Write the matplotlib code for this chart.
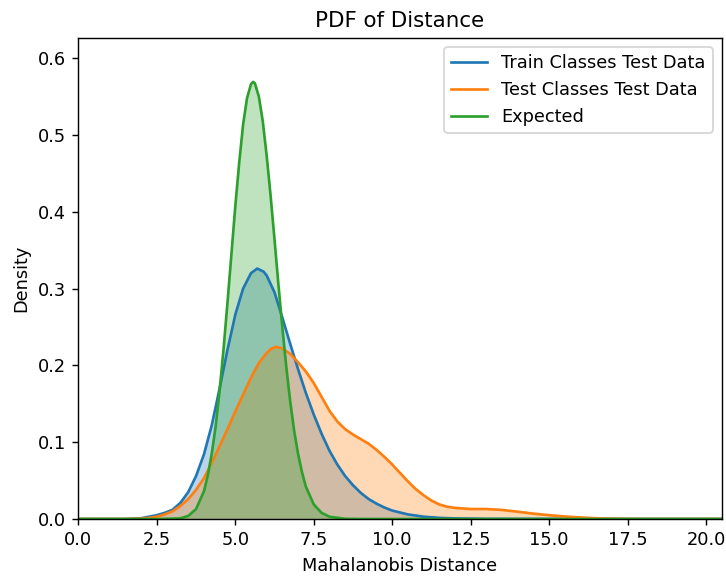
import numpy as np
import matplotlib.pyplot as plt

# density values
train_x = [0.0, 1.5, 2.0, 2.25, 2.5, 2.75, 3.0, 3.25, 3.5, 3.75, 4.0, 4.25, 4.5, 4.75, 5.0,
           5.25, 5.5, 5.7, 5.9, 6.0, 6.25, 6.5, 6.75, 7.0, 7.25, 7.5, 7.75, 8.0, 8.25, 8.5,
           8.75, 9.0, 9.25, 9.5, 9.75, 10.0, 10.5, 11.0, 11.5, 12.0, 13.0, 20.6]
train_y = [0.0, 0.0, 0.001, 0.003, 0.005, 0.008, 0.012, 0.021, 0.035, 0.056, 0.084, 0.122,
           0.170, 0.220, 0.266, 0.300, 0.320, 0.326, 0.322, 0.317, 0.295, 0.262, 0.228,
           0.195, 0.164, 0.136, 0.111, 0.089, 0.071, 0.056, 0.044, 0.034, 0.026, 0.020,
           0.015, 0.011, 0.006, 0.003, 0.0015, 0.0008, 0.0002, 0.0]

test_x = [0.0, 1.5, 2.0, 2.25, 2.5, 2.75, 3.0, 3.25, 3.5, 3.75, 4.0, 4.25, 4.5, 4.75, 5.0,
          5.25, 5.5, 5.75, 6.0, 6.15, 6.3, 6.5, 6.75, 7.0, 7.25, 7.5, 7.75, 8.0, 8.25, 8.5,
          8.75, 9.0, 9.25, 9.5, 9.75, 10.0, 10.25, 10.5, 10.75, 11.0, 11.25, 11.5, 11.75,
          12.0, 12.5, 13.0, 13.5, 14.0, 14.5, 15.0, 15.5, 16.0, 16.5, 17.0, 17.5, 18.0, 20.6]
test_y = [0.0, 0.0, 0.0005, 0.0015, 0.003, 0.006, 0.010, 0.017, 0.026, 0.038, 0.053, 0.073,
          0.095, 0.117, 0.140, 0.162, 0.184, 0.203, 0.216, 0.222, 0.224, 0.222, 0.215,
          0.204, 0.192, 0.177, 0.159, 0.141, 0.127, 0.117, 0.110, 0.104, 0.098, 0.090,
          0.081, 0.071, 0.060, 0.049, 0.039, 0.031, 0.024, 0.019, 0.016, 0.0145, 0.013,
          0.013, 0.0118, 0.0095, 0.007, 0.005, 0.0033, 0.002, 0.001, 0.0005, 0.0002, 0.0,
          0.0]

exp_x = [0.0, 2.5, 3.0, 3.25, 3.5, 3.75, 4.0, 4.125, 4.25, 4.375, 4.5, 4.625, 4.75, 4.875,
         5.0, 5.125, 5.25, 5.375, 5.5, 5.57, 5.625, 5.75, 5.875, 6.0, 6.125, 6.25, 6.375,
         6.5, 6.625, 6.75, 6.875, 7.0, 7.125, 7.25, 7.5, 7.75, 8.0, 8.5, 9.0, 20.6]
exp_y = [0.0, 0.0, 0.0005, 0.0009, 0.004, 0.013, 0.036, 0.057, 0.085, 0.121, 0.167, 0.221,
         0.281, 0.344, 0.407, 0.464, 0.514, 0.548, 0.566, 0.569, 0.567, 0.550, 0.518,
         0.473, 0.421, 0.364, 0.305, 0.249, 0.198, 0.153, 0.115, 0.085, 0.061, 0.042,
         0.019, 0.008, 0.003, 0.0003, 0.0, 0.0]

labels = ['Train Classes Test Data', 'Test Classes Test Data', 'Expected']
colors = ['#1f77b4', '#ff7f0e', '#2ca02c']

fig = plt.figure(figsize=(726 / 128, 577 / 128), dpi=128)
ax = fig.add_axes([0.108, 0.1005, 0.886, 0.8335])

for xs, ys, lab, c in zip([train_x, test_x, exp_x], [train_y, test_y, exp_y], labels, colors):
    ax.fill_between(xs, ys, color=c, alpha=0.3, linewidth=0)
    ax.plot(xs, ys, color=c, linewidth=1.5, label=lab)

ax.set_xlim(0, 20.5)
ax.set_ylim(0, 0.626)
ax.set_xticks(np.arange(0, 20.1, 2.5))
ax.set_yticks(np.arange(0, 0.61, 0.1))
ax.set_title('PDF of Distance')
ax.set_xlabel('Mahalanobis Distance')
ax.set_ylabel('Density')
ax.legend(loc='upper right')

fig.savefig('out.png', dpi=128)
